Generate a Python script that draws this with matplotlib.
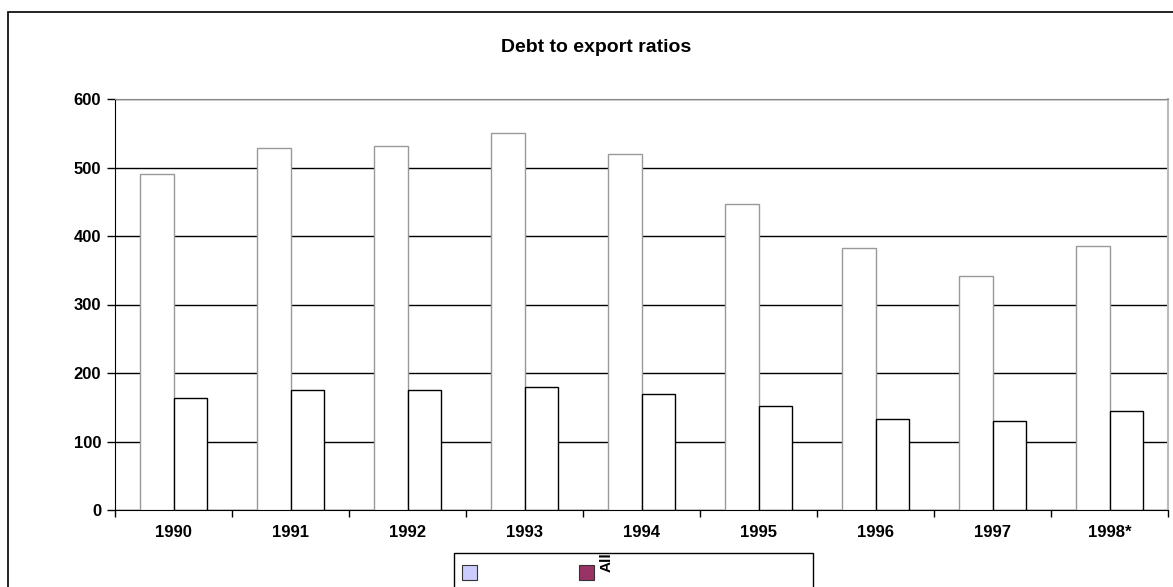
import numpy as np
import matplotlib.pyplot as plt
from matplotlib.patches import Rectangle

years = ['1990', '1991', '1992', '1993', '1994', '1995', '1996', '1997', '1998*']
series_a = [490, 529, 532, 550, 519, 447, 383, 342, 386]
series_b = [164, 175, 175, 180, 170, 152, 133, 130, 145]
legend_labels = ['', 'All']
legend_colors = ['#CCCCFF', '#993366']

plt.rcParams['font.family'] = ['Liberation Sans', 'DejaVu Sans']

fig = plt.figure(figsize=(11.73, 5.87), dpi=100)
ax = fig.add_axes([115/1173, 1-510/587, (1168-115)/1173, (510-99)/587])

x = np.arange(len(years))
w = 0.286
ax.bar(x - w/2, series_a, w, color='white', edgecolor='#999999', linewidth=1, zorder=3)
ax.bar(x + w/2, series_b, w, color='white', edgecolor='black', linewidth=1, zorder=3)

ax.set_xlim(-0.5, len(years) - 0.5)
ax.set_ylim(0, 600)
ax.set_yticks(range(0, 601, 100))
ax.yaxis.grid(True, color='black', linewidth=1, zorder=0)
ax.set_axisbelow(True)

ax.set_xticks(x)
ax.set_xticklabels(years, fontsize=12, fontweight='bold')
ax.tick_params(axis='x', length=0, pad=11)
ax.set_xticks(np.arange(-0.5, len(years)), minor=True)
ax.tick_params(axis='x', which='minor', length=5, width=1, direction='out')
ax.tick_params(axis='y', length=6, width=1, direction='out', labelsize=12, pad=4)
for t in ax.get_yticklabels():
    t.set_fontweight('bold')

ax.spines['left'].set_color('black')
ax.spines['bottom'].set_color('black')
ax.spines['top'].set_color('#888888')
ax.spines['right'].set_color('#BBBBBB')
ax.spines['right'].set_linewidth(1.5)

fig.text(596/1173, 1-47/587, 'Debt to export ratios', ha='center', va='center',
         fontsize=14, fontweight='bold')

# outer chart frame (cropped at right and bottom)
fig.patches.append(Rectangle((8/1173, -0.1), 1.2, 1 - 12/587 + 0.1,
                             transform=fig.transFigure, fill=False,
                             edgecolor='black', linewidth=1.2, zorder=0))

# legend box (cropped at bottom)
fig.patches.append(Rectangle((454/1173, -0.1), (813-454)/1173, 1 - 553/587 + 0.1,
                             transform=fig.transFigure, facecolor='white',
                             edgecolor='black', linewidth=1, zorder=1))
for i, (lab, col) in enumerate(zip(legend_labels, legend_colors)):
    x0 = [462, 579][i]
    fig.patches.append(Rectangle((x0/1173, 1 - 580/587), 15/1173, 15/587,
                                 transform=fig.transFigure, facecolor=col,
                                 edgecolor='#333333', linewidth=0.8, zorder=2))
    if lab:
        fig.text((x0 + 28)/1173, 1 - 562/587, lab, rotation=90, ha='center',
                 va='center', fontsize=11, fontweight='bold')

fig.savefig('out.png', dpi=100)
